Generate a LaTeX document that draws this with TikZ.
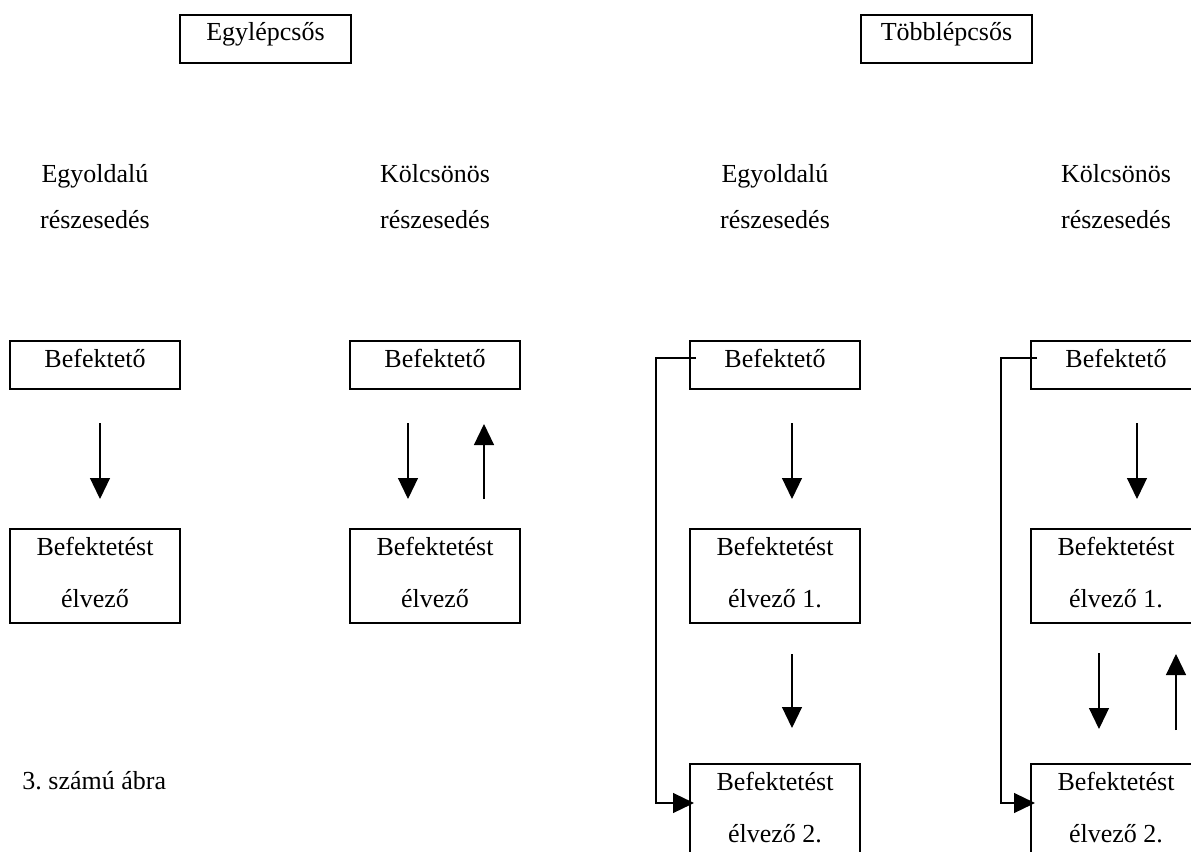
\documentclass[tikz,border=0pt]{standalone}
\usepackage{fontspec}
\setmainfont{Liberation Serif}
\usetikzlibrary{arrows.meta}
\frenchspacing
\begin{document}
\begin{tikzpicture}[x=0.5pt,y=-0.5pt,
  every node/.style={font=\fontsize{13pt}{26pt}\selectfont, inner sep=0pt},
  onebox/.style={draw, line width=1pt, minimum width=85pt, minimum height=24pt, text height=9pt, text depth=7pt},
  twobox/.style={draw, line width=1pt, minimum width=85pt, minimum height=47pt, align=center, text height=35pt, text depth=4pt},
  headbox/.style={draw, line width=1pt, minimum width=85.5pt, minimum height=24pt, text height=9pt, text depth=8pt},
  lbl/.style={align=center, anchor=base, font=\fontsize{13pt}{23pt}\selectfont},
  arr/.style={line width=0.6pt, -{Triangle[length=10.5pt,width=10pt]}},
  conn/.style={line width=0.6pt}
]
\useasboundingbox (0,0) rectangle (1191,852);
\clip (0,0) rectangle (1191,852);

% headings
\node[headbox] (h1) at (265.5,39) {Egylépcsős};
\node[headbox] (h2) at (946.5,39) {Többlépcsős};

% column labels (anchor base = last line)
\node[lbl] (l1) at (95,228) {Egyoldalú\\részesedés};
\node[lbl] (l2) at (435,228) {Kölcsönös\\részesedés};
\node[lbl] (l3) at (775,228) {Egyoldalú\\részesedés};
\node[lbl] (l4) at (1116,228) {Kölcsönös\\részesedés};

% row A
\node[onebox] (a1) at (95,365) {Befektető};
\node[onebox] (a2) at (435,365) {Befektető};
\node[onebox] (a3) at (775,365) {Befektető};
\node[onebox] (a4) at (1116,365) {Befektető};

% row B
\node[twobox] (b1) at (95,576) {Befektetést\\élvező};
\node[twobox] (b2) at (435,576) {Befektetést\\élvező};
\node[twobox] (b3) at (775,576) {Befektetést\\élvező 1.};
\node[twobox] (b4) at (1116,576) {Befektetést\\élvező 1.};

% row C
\node[twobox] (c3) at (775,811) {Befektetést\\élvező 2.};
\node[twobox] (c4) at (1116,811) {Befektetést\\élvező 2.};

% caption
\node[anchor=base west] (cap) at (22,789) {3. számú ábra};

% arrows column 1
\draw[arr] ([shift={(5,33)}]a1.south) -- ([shift={(5,-29)}]b1.north);
% column 2
\draw[arr] ([shift={(-27,33)}]a2.south) -- ([shift={(-27,-29)}]b2.north);
\draw[arr] ([shift={(49,-29)}]b2.north) -- ([shift={(49,34)}]a2.south);
% column 3
\draw[arr] ([shift={(17,33)}]a3.south) -- ([shift={(17,-29)}]b3.north);
\draw[arr] ([shift={(17,30)}]b3.south) -- ([shift={(17,-35)}]c3.north);
\draw[arr] ([shift={(7,-7)}]a3.west) -- ++(-40,0) |- ([shift={(5,-8)}]c3.west);
% column 4
\draw[arr] ([shift={(21,33)}]a4.south) -- ([shift={(21,-29)}]b4.north);
\draw[arr] ([shift={(-17,29)}]b4.south) -- ([shift={(-17,-34)}]c4.north);
\draw[arr] ([shift={(60,-33)}]c4.north) -- ([shift={(60,30)}]b4.south);
\draw[arr] ([shift={(7,-7)}]a4.west) -- ++(-36,0) |- ([shift={(5,-8)}]c4.west);
\end{tikzpicture}
\end{document}
